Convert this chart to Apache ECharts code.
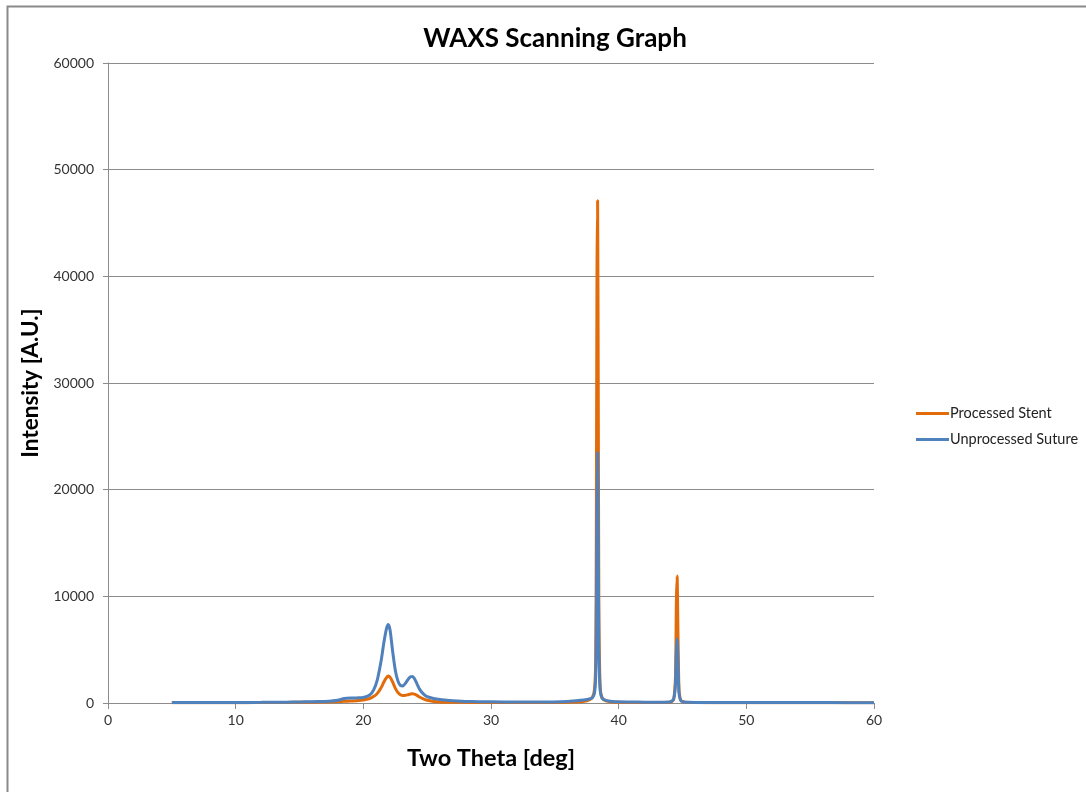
<!DOCTYPE html>
<html>
<head>
<meta charset="utf-8">
<script src="https://cdn.jsdelivr.net/npm/echarts@6/dist/echarts.min.js"></script>
<style>
  html, body { margin: 0; padding: 0; background: #fff; }
  #chart { width: 1086px; height: 792px; }
</style>
</head>
<body>
<div id="chart"></div>
<script>
// Scattering angle (two theta, degrees)
const twoTheta = [
  5, 6, 7, 8, 9, 10, 11, 12, 13, 14, 15, 16, 17, 17.5, 18, 18.5, 19, 19.5, 20, 20.5,
  20.8, 21.1, 21.4, 21.6, 21.8, 21.95, 22.1, 22.3, 22.5, 22.7, 22.9, 23.1, 23.3, 23.5,
  23.7, 23.85, 24.0, 24.2, 24.4, 24.7, 25.0, 25.5, 26, 27, 28, 29, 30, 32, 34, 36,
  37, 37.5, 37.9, 38.1, 38.2, 38.25, 38.3, 38.35, 38.4, 38.45, 38.55, 38.7, 39, 39.5,
  40, 41, 42, 43, 44, 44.3, 44.45, 44.52, 44.58, 44.64, 44.72, 44.85, 45.1, 45.5,
  46, 48, 50, 52, 55, 58, 60
];

// Processed stent intensity [A.U.]
const processedStent = [
  20, 20, 25, 25, 30, 30, 35, 40, 45, 55, 65, 80, 100, 110, 130, 160, 190, 220, 280, 420,
  600, 900, 1450, 1950, 2350, 2520, 2400, 1950, 1400, 1000, 780, 700, 720, 780,
  840, 860, 830, 720, 560, 380, 250, 150, 100, 70, 60, 50, 50, 45, 45, 70,
  120, 200, 450, 1200, 4000, 16000, 40000, 47100, 30000, 9000, 1500, 500, 200, 100,
  70, 50, 45, 45, 60, 300, 2500, 9500, 11900, 7000, 1500, 300, 90, 50,
  40, 30, 30, 25, 25, 20, 20
];

// Unprocessed suture intensity [A.U.]
const unprocessedSuture = [
  40, 40, 45, 45, 50, 50, 55, 60, 70, 80, 100, 120, 150, 180, 250, 420, 470, 480, 520, 750,
  1200, 2200, 4000, 5600, 6900, 7350, 6800, 4800, 3100, 2100, 1650, 1600, 1850, 2200,
  2450, 2480, 2300, 1800, 1300, 850, 600, 420, 320, 200, 150, 120, 110, 90, 90, 150,
  250, 330, 450, 900, 2500, 7000, 18000, 23500, 15000, 5000, 1200, 450, 250, 150,
  110, 90, 80, 80, 100, 350, 1800, 4800, 6000, 4000, 1000, 250, 90, 60,
  50, 45, 40, 40, 40, 35, 35
];

const xTicks = [0, 10, 20, 30, 40, 50, 60];

const toPairs = ys => twoTheta.map((x, i) => [x, ys[i]]);

const chart = echarts.init(document.getElementById('chart'), null, { renderer: 'canvas' });

const font = 'Lato, "Open Sans", "Liberation Sans", sans-serif';

chart.setOption({
  backgroundColor: '#ffffff',
  animation: false,
  textStyle: { fontFamily: font },
  title: {
    text: 'WAXS Scanning Graph',
    left: 550,
    top: 21,
    textAlign: 'center',
    textStyle: { fontFamily: font, fontSize: 26, fontWeight: 'bold', color: '#000' }
  },
  graphic: [{
    type: 'rect',
    shape: { x: 7.5, y: 6.5, width: 1200, height: 900 },
    style: { fill: 'none', stroke: '#8a8a8a', lineWidth: 2 },
    silent: true
  }],
  legend: {
    orient: 'vertical',
    left: 911,
    top: 401,
    itemGap: 11,
    itemWidth: 33,
    itemHeight: 3,
    icon: 'rect',
    textStyle: { fontFamily: font, fontSize: 14.5, color: '#222', padding: [0, 0, 0, -4] },
    data: ['Processed Stent', 'Unprocessed Suture']
  },
  grid: { left: 108, right: 212, top: 63, bottom: 89, containLabel: false },
  xAxis: {
    type: 'value',
    min: 0,
    max: 60,
    interval: 10,
    name: 'Two Theta [deg]',
    nameLocation: 'middle',
    nameGap: 43,
    nameTextStyle: { fontFamily: font, fontSize: 23.5, fontWeight: 'bold', color: '#000' },
    axisLine: { lineStyle: { color: '#8c8c8c', width: 1 } },
    axisTick: { show: true, inside: false, length: 6, lineStyle: { color: '#8c8c8c' } },
    axisLabel: { fontFamily: font, fontSize: 14, color: '#333', margin: 10,
      formatter: v => xTicks.includes(v) ? String(v) : '' },
    splitLine: { show: false }
  },
  yAxis: {
    type: 'value',
    min: 0,
    max: 60000,
    interval: 10000,
    name: 'Intensity [A.U.]',
    nameLocation: 'middle',
    nameGap: 61,
    nameRotate: 90,
    nameTextStyle: { fontFamily: font, fontSize: 22.5, fontWeight: 'bold', color: '#000' },
    axisLine: { show: true, lineStyle: { color: '#8c8c8c', width: 1 } },
    axisTick: { show: true, inside: false, length: 5, lineStyle: { color: '#8c8c8c' } },
    axisLabel: { fontFamily: font, fontSize: 14, color: '#333', margin: 14,
      formatter: v => String(v) },
    splitLine: { show: true, lineStyle: { color: '#8c8c8c', width: 1 } }
  },
  series: [
    {
      name: 'Processed Stent',
      type: 'line',
      data: toPairs(processedStent),
      showSymbol: false,
      smooth: 0.2,
      lineStyle: { color: '#E36C0A', width: 3 },
      itemStyle: { color: '#E36C0A' },
      z: 2
    },
    {
      name: 'Unprocessed Suture',
      type: 'line',
      data: toPairs(unprocessedSuture),
      showSymbol: false,
      smooth: 0.2,
      lineStyle: { color: '#4F81BD', width: 3 },
      itemStyle: { color: '#4F81BD' },
      z: 3
    }
  ]
});
</script>
</body>
</html>
